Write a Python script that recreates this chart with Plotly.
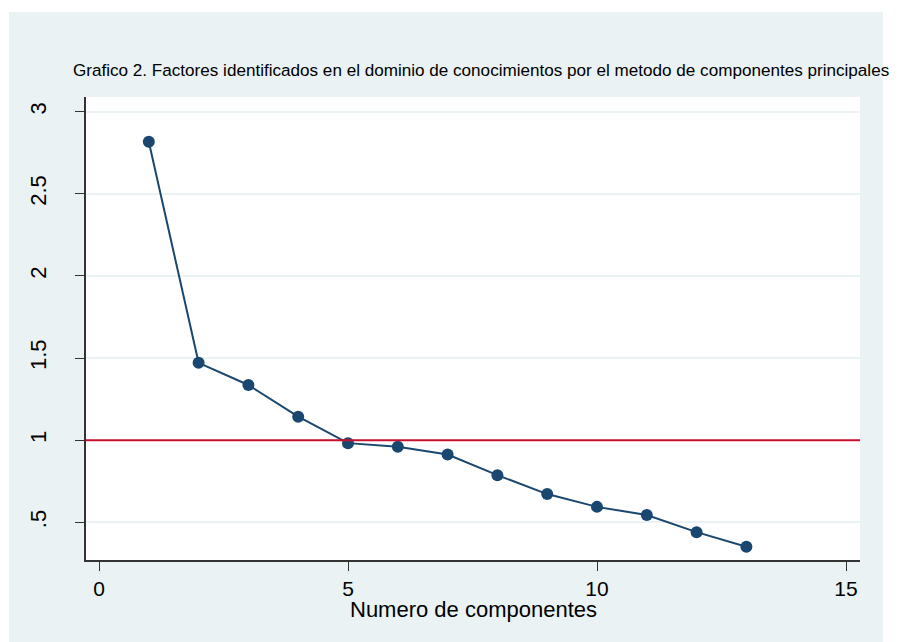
import plotly.graph_objects as go

# Data
components = [1, 2, 3, 4, 5, 6, 7, 8, 9, 10, 11, 12, 13]
eigenvalues = [2.817, 1.471, 1.336, 1.143, 0.982, 0.960, 0.913, 0.787, 0.672, 0.594, 0.544, 0.440, 0.351]
ref_line = 1.0

x_tickvals = [0, 5, 10, 15]
x_ticktext = ["0", "5", "10", "15"]
y_tickvals = [0.5, 1.0, 1.5, 2.0, 2.5, 3.0]
y_ticktext = [".5", "1", "1.5", "2", "2.5", "3"]

title_text = "Grafico 2. Factores identificados en el dominio de conocimientos por el metodo de componentes principales"
x_title = "Numero de componentes"

FONT = "Liberation Sans, Arial, sans-serif"
NAVY = "#1A476F"
RED = "#C8102E"
PANEL = "#EAF2F3"
AXIS = "#333333"

W, H = 897, 634          # page body has an 8px offset
L, R, T, B = 78, 45, 89, 82
PW, PH = W - L - R, H - T - B

fig = go.Figure()
fig.add_trace(go.Scatter(
    x=components, y=eigenvalues, mode="lines+markers",
    line=dict(color=NAVY, width=2),
    marker=dict(color=NAVY, size=12),
    showlegend=False, hoverinfo="x+y",
))

fig.update_layout(
    width=W, height=H,
    margin=dict(l=L, r=R, t=T, b=B),
    paper_bgcolor="white", plot_bgcolor="white",
    font=dict(family=FONT, color="black"),
    title=dict(text=title_text, x=65/W, xanchor="left", xref="container",
               y=1 - 62/H, yanchor="middle", yref="container",
               font=dict(size=17.1, family=FONT, color="black")),
    shapes=[
        dict(type="rect", xref="paper", yref="paper",
             x0=(1-L)/PW, x1=(875-L)/PW, y0=(T+PH-H)/PH, y1=(T+PH-4)/PH,
             fillcolor=PANEL, line=dict(width=0), layer="below"),
        dict(type="rect", xref="paper", yref="paper", x0=0, x1=1, y0=0, y1=1,
             fillcolor="white", line=dict(width=0), layer="below"),
        dict(type="line", xref="paper", yref="y", x0=0, x1=1, y0=ref_line, y1=ref_line,
             line=dict(color=RED, width=2), layer="above"),
    ],
    annotations=[
        dict(text=x_title, xref="paper", yref="paper", x=0.5, y=(T+PH-601)/PH,
             xanchor="center", yanchor="middle", showarrow=False,
             font=dict(size=22, family=FONT, color="black")),
    ],
)

fig.update_xaxes(
    range=[-0.261, 15.281], tickvals=x_tickvals, ticktext=x_ticktext,
    showgrid=False, zeroline=False,
    showline=True, linecolor=AXIS, linewidth=1.5,
    ticks="outside", ticklen=9, tickcolor=AXIS, tickwidth=1,
    tickfont=dict(size=21, family=FONT, color="black"),
)
fig.update_yaxes(
    range=[0.2705, 3.0895], tickvals=y_tickvals, ticktext=y_ticktext,
    showgrid=True, gridcolor=PANEL, gridwidth=2, zeroline=False,
    showline=True, linecolor=AXIS, linewidth=1.5,
    ticks="outside", ticklen=9, tickcolor=AXIS, tickwidth=1,
    tickangle=-90, ticklabelstandoff=20,
    tickfont=dict(size=22, family=FONT, color="black"),
)

fig.write_html("out.html")
